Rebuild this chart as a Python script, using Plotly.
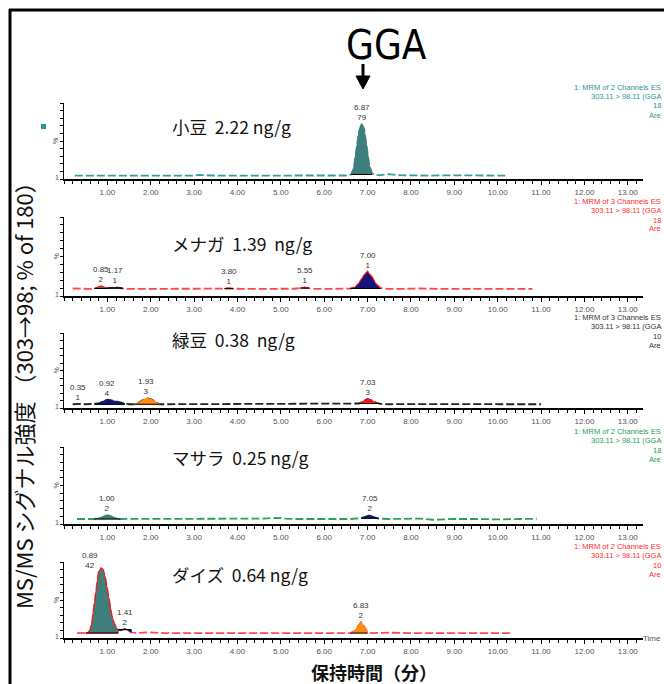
import plotly.graph_objects as go

W, H = 664, 684

# ---------------- data ----------------
sample_names = ["小豆  2.22 ng/g", "メナガ  1.39  ng/g", "緑豆  0.38  ng/g", "マサラ  0.25 ng/g", "ダイズ  0.64 ng/g"]
tick_values = list(range(1, 14))
tick_labels = ["%.2f" % v for v in tick_values]
# channel descriptions, as far as they are visible at the right edge
channel_lines = [
    ["1: MRM of 2 Channels ES", "303.11 > 98.11 (GGA", "18", "Are"],
    ["1: MRM of 3 Channels ES", "303.11 > 98.11 (GGA", "18", "Are"],
    ["1: MRM of 3 Channels ES", "303.11 > 98.11 (GGA", "10", "Are"],
    ["1: MRM of 2 Channels ES", "303.11 > 98.11 (GGA", "18", "Are"],
    ["1: MRM of 2 Channels ES", "303.11 > 98.11 (GGA", "10", "Are"],
]

t1 = [0.25,0.6,1.0,1.3,1.6,1.9,2.2,2.6,3.0,3.1,3.4,3.8,4.2,4.6,5.0,5.4,5.8,6.2,6.55,6.62,6.68,6.74,6.8,6.86,6.92,6.98,7.04,7.1,7.16,7.3,7.5,7.7,8.0,8.4,8.8,9.2,9.6,10.0,10.2]
y1 = [4.5,4.5,4.6,4.5,4.4,4.7,4.5,4.5,4.5,5.5,4.6,4.5,4.8,4.5,4.5,4.6,4.5,4.4,4.6,6,14,38,62,73,66,42,18,8,5,5.2,6.5,5,4.5,4.5,4.8,4.5,4.6,4.6,4.5]
peaks1 = [(6.58, 7.14, "6.87", "79")]

t2 = [0.2,0.4,0.6,0.7,0.8,0.85,0.9,1.0,1.1,1.17,1.25,1.35,1.5,1.8,2.1,2.5,2.9,3.2,3.5,3.7,3.8,3.9,4.1,4.5,5.0,5.3,5.45,5.55,5.65,5.8,6.2,6.5,6.6,6.7,6.8,6.9,7.0,7.1,7.2,7.3,7.5,7.8,8.2,8.6,9.0,9.4,9.8,10.2,10.8]
y2 = [9.5,9,9,9.5,11,12.5,12,10,10.5,11,10.5,9.5,9,9,9.5,9.5,9.5,9,9,9.3,10,9.3,9,9,9,9.2,10,11,10,9,9,9,9.5,11,16,25,31,24,15,10,9,9,9.5,9,9,9.5,9,9.5,9]
peaks2 = [(0.7, 1.0, "0.85", "2"), (1.0, 1.35, "1.17", "1"), (3.7, 3.9, "3.80", "1"), (5.45, 5.65, "5.55", "1"), (6.6, 7.3, "7.00", "1")]

t3 = [0.2,0.28,0.33,0.38,0.5,0.7,0.8,0.9,1.0,1.1,1.2,1.3,1.4,1.5,1.6,1.7,1.8,1.9,2.0,2.1,2.2,2.4,2.8,3.2,3.6,4.0,4.4,4.8,5.2,5.6,6.0,6.4,6.8,6.9,7.0,7.1,7.2,7.3,7.5,8.0,8.5,9.0,9.5,10.0,10.5,11.0]
y3 = [5,5.5,6,5.5,5,5,6,9,11,10,8.5,8,6,5,5,6,10,13,12,9,5,5,5,5.3,5,5,5,5.2,5,5,5,5.2,6,9,12,10,7,5.5,5,5.2,5,5.5,5,5.3,5,5]
peaks3 = [(0.28, 0.38, "0.35", "1"), (0.7, 1.4, "0.92", "4"), (1.6, 2.2, "1.93", "3"), (6.8, 7.3, "7.03", "3")]

t4 = [0.3,0.7,0.85,0.95,1.0,1.05,1.15,1.3,1.8,2.4,3.0,3.6,4.2,4.6,4.9,5.1,5.4,5.8,6.2,6.6,6.85,6.95,7.05,7.15,7.25,7.5,8.0,8.2,8.5,9.0,9.5,10.0,10.5,10.9]
y4 = [6.5,6.5,8,10,12,11,8,6.5,6.5,6.8,6.5,6.5,6.5,7,8,7,6.5,6.5,6.5,6.5,7.5,10,11.5,9,7,6.5,6.5,7,5.5,6.5,6.5,6,6.5,6.8]
peaks4 = [(0.7, 1.3, "1.00", "2"), (6.85, 7.25, "7.05", "2")]

t5 = [0.3,0.5,0.55,0.6,0.65,0.7,0.75,0.8,0.85,0.9,0.95,1.0,1.05,1.1,1.15,1.2,1.25,1.3,1.35,1.4,1.45,1.5,1.55,1.6,1.7,1.9,2.3,2.8,3.3,3.8,4.3,4.8,5.3,5.8,6.3,6.6,6.7,6.75,6.8,6.85,6.9,6.95,7.0,7.1,7.5,8.0,8.5,9.0,9.5,10.0,10.3]
y5 = [6.5,6.5,7,10,22,45,70,87,92,90,80,62,45,30,20,14,11,10,11,12,11,9,7.5,7,6.5,7.5,6.5,6.5,6.5,6.5,6.5,6.5,6.5,6.5,6.8,6.5,9,13,18,21,17,11,7,6.5,7,6.5,6.5,6.5,6.5,7,6.5]
peaks5 = [(0.5, 1.25, "0.89", "42"), (1.25, 1.55, "1.41", "2"), (6.6, 7.0, "6.83", "2")]

# ---------------- styles ----------------
times = [t1, t2, t3, t4, t5]
signals = [y1, y2, y3, y4, y5]
peaks = [peaks1, peaks2, peaks3, peaks4, peaks5]
line_colors = ["#3a9c9a", "#ff4545", "#222222", "#2aa055", "#ff4a4a"]
text_colors = ["#2a9491", "#ff2a2a", "#333333", "#23a050", "#ff2a2a"]
TEAL, NAVY, ORANGE, RED, DRED = "#3e7f7c", "#14147a", "#ff8c10", "#ff1010", "#8b1a1a"
peak_fills = [
    [TEAL],
    [TEAL, NAVY, ORANGE, DRED, NAVY],
    [TEAL, NAVY, ORANGE, RED],
    [TEAL, NAVY],
    [TEAL, NAVY, ORANGE],
]
peak_edges = [
    [TEAL],
    [RED, NAVY, RED, RED, RED],
    [TEAL, NAVY, ORANGE, RED],
    [TEAL, NAVY],
    [RED, NAVY, ORANGE],
]

# panel pixel geometry (top, bottom) of each plot area
panels_px = [(103, 179), (217, 296), (333, 408), (447, 524), (562, 638)]
label_y_px = [126, 243, 340, 457, 574]
X0, X1 = 64, 643

def px(x):
    return x / W

def py(y):
    return 1 - y / H

fig = go.Figure()
annotations = []
shapes = []
small = dict(size=8, color="#333", family="Liberation Sans")

for i in range(5):
    n = "" if i == 0 else str(i + 1)
    xr, yr = "x" + n, "y" + n
    t, s = times[i], signals[i]
    fig.add_trace(go.Scatter(x=t, y=s, mode="lines", xaxis=xr, yaxis=yr,
                             line=dict(color=line_colors[i], width=1.8, dash="8px,3px"),
                             hoverinfo="skip", showlegend=False))
    for k, (a, b, rt, area) in enumerate(peaks[i]):
        sub = [(tt, vv) for tt, vv in zip(t, s) if a <= tt <= b]
        base = sub[0][1]
        fx = [p[0] for p in sub] + [sub[-1][0], sub[0][0]]
        fy = [p[1] for p in sub] + [base, base]
        fig.add_trace(go.Scatter(x=fx, y=fy, mode="lines", fill="toself",
                                 xaxis=xr, yaxis=yr,
                                 fillcolor=peak_fills[i][k],
                                 line=dict(color=peak_edges[i][k], width=1),
                                 hoverinfo="skip", showlegend=False))
        fig.add_trace(go.Scatter(x=[sub[0][0], sub[-1][0]], y=[base, base], mode="lines",
                                 xaxis=xr, yaxis=yr, line=dict(color="black", width=1),
                                 hoverinfo="skip", showlegend=False))
        apex = max(sub, key=lambda p: p[1])
        if apex[1] > 80:
            annotations.append(dict(x=apex[0], y=apex[1], xref=xr, yref=yr,
                                    text=rt + "<br>" + area, showarrow=False,
                                    xanchor="right", yanchor="bottom", xshift=-1, yshift=-4,
                                    font=small, align="center"))
        else:
            annotations.append(dict(x=apex[0], y=apex[1], xref=xr, yref=yr,
                                    text=rt + "<br>" + area, showarrow=False,
                                    xanchor="center", yanchor="bottom",
                                    font=small, align="center"))
    top, bot = panels_px[i]
    fig.update_layout(**{
        ("xaxis" + n): dict(domain=[px(X0), px(X1)], range=[0, 13.35], anchor=yr,
                            showline=True, linewidth=2, linecolor="black",
                            ticks="outside", ticklen=4, tickwidth=1, tickcolor="black",
                            tickmode="array", tickvals=tick_values, ticktext=tick_labels,
                            tickfont=dict(size=8, color="#555", family="Liberation Sans"),
                            minor=dict(tickmode="linear", tick0=0, dtick=0.2, ticks="outside",
                                       ticklen=3, tickcolor="black"),
                            showgrid=False, zeroline=False, fixedrange=True),
        ("yaxis" + n): dict(domain=[py(bot), py(top)], range=[0, 100], anchor=xr,
                            showline=True, linewidth=1, linecolor="black",
                            ticks="outside", ticklen=3, dtick=10, tickcolor="black",
                            showticklabels=False, showgrid=False, zeroline=False, fixedrange=True),
    })
    annotations.append(dict(x=px(57), y=py(bot - 2), xref="paper", yref="paper", text="1",
                            showarrow=False, font=dict(size=7, color="#555"), xanchor="center", yanchor="middle"))
    annotations.append(dict(x=px(56), y=py((top + bot) / 2), xref="paper", yref="paper", text="%",
                            showarrow=False, textangle=-90, font=dict(size=7, color="#555"),
                            xanchor="center", yanchor="middle"))
    annotations.append(dict(x=px(170), y=py(label_y_px[i]), xref="paper", yref="paper",
                            text=sample_names[i], showarrow=False, xanchor="left", yanchor="middle",
                            font=dict(size=17.5, color="#111", family="Noto Sans CJK JP")))
    ys = [top - 16, top - 7, top + 3, top + 12]
    for j, txt in enumerate(channel_lines[i]):
        annotations.append(dict(x=px(663), y=py(ys[j]), xref="paper", yref="paper", text=txt,
                                showarrow=False, xanchor="right", yanchor="middle",
                                font=dict(size=7.5, color=text_colors[i], family="Liberation Sans")))

annotations.append(dict(x=px(663), y=py(638), xref="paper", yref="paper", text="Time", showarrow=False,
                        xanchor="right", yanchor="middle", font=dict(size=8, color="#555", family="Liberation Sans")))
annotations.append(dict(x=px(386), y=py(45), xref="paper", yref="paper", text="GGA", showarrow=False,
                        xanchor="center", yanchor="middle",
                        font=dict(size=40, color="black",
                                  family="Liberation Sans Narrow, DejaVu Sans Condensed, DejaVu Sans")))
annotations.append(dict(x=px(23), y=py(390), xref="paper", yref="paper",
                        text="MS/MS シグナル強度 （303→98; % of 180）", showarrow=False, textangle=-90,
                        xanchor="center", yanchor="middle",
                        font=dict(size=22, color="#111", family="Noto Sans CJK JP")))
annotations.append(dict(x=px(374), y=py(672), xref="paper", yref="paper",
                        text="<b>保持時間（分）</b>", showarrow=False, xanchor="center", yanchor="middle",
                        font=dict(size=18, color="#111", family="Noto Sans CJK JP")))

shapes.append(dict(type="line", xref="paper", yref="paper", x0=px(363), x1=px(363), y0=py(64), y1=py(79),
                   line=dict(color="black", width=3)))
shapes.append(dict(type="path", xref="paper", yref="paper",
                   path="M %f %f L %f %f L %f %f Z" % (px(356), py(76), px(370), py(76), px(363), py(89)),
                   fillcolor="black", line=dict(color="black", width=1)))
shapes.append(dict(type="line", xref="paper", yref="paper", x0=px(9), x1=1.0, y0=py(10), y1=py(10),
                   line=dict(color="black", width=3)))
shapes.append(dict(type="line", xref="paper", yref="paper", x0=px(10), x1=px(10), y0=py(9), y1=0,
                   line=dict(color="black", width=3)))
shapes.append(dict(type="rect", xref="paper", yref="paper", x0=px(41), x1=px(46), y0=py(129), y1=py(124),
                   fillcolor="#2a9491", line=dict(width=0)))

fig.update_layout(width=W, height=H, autosize=False, margin=dict(l=0, r=0, t=0, b=0),
                  paper_bgcolor="white", plot_bgcolor="white", showlegend=False,
                  annotations=annotations, shapes=shapes,
                  font=dict(family="Liberation Sans"))

fig.write_html("out.html", config={"displayModeBar": False},
               post_script="document.body.style.margin='0';document.body.style.overflow='hidden';")
